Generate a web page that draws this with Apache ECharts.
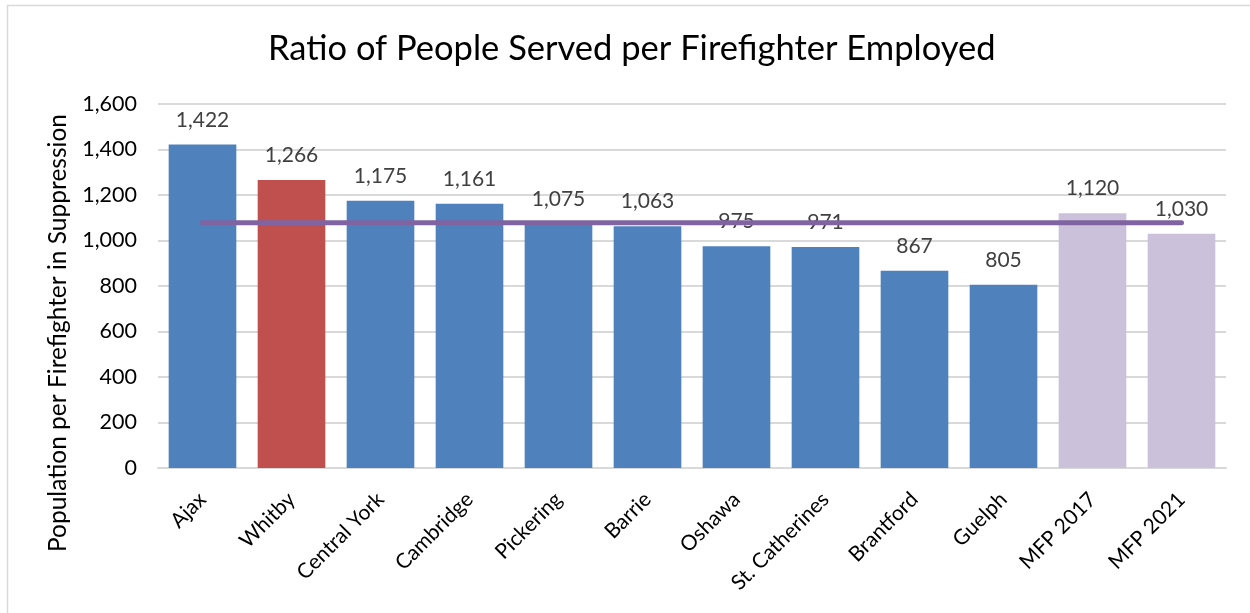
<!DOCTYPE html>
<html>
<head>
<meta charset="utf-8">
<title>Ratio of People Served per Firefighter Employed</title>
<script src="https://cdn.jsdelivr.net/npm/echarts@6/dist/echarts.min.js"></script>
<style>
  html, body { margin: 0; padding: 0; background: #ffffff; }
  #chart { width: 1250px; height: 613px; }
</style>
</head>
<body>
<div id="chart"></div>
<script>
// Municipalities and the master fire plan benchmarks
const categories = ['Ajax', 'Whitby', 'Central York', 'Cambridge', 'Pickering', 'Barrie',
  'Oshawa', 'St. Catherines', 'Brantford', 'Guelph', 'MFP 2017', 'MFP 2021'];

// Population served per suppression firefighter
const ratios = [1422, 1266, 1175, 1161, 1075, 1063, 975, 971, 867, 805, 1120, 1030];

// Average of the ten comparator municipalities
const comparatorAverage = 1078;

// Value axis ticks
const yTicks = [0, 200, 400, 600, 800, 1000, 1200, 1400, 1600];

const yAxisTitle = 'Population per Firefighter in Suppression';

const FONT = 'Lato, "Noto Sans", sans-serif';
const highlightName = 'Whitby';
const planPrefix = 'MFP';

function barColor(name) {
  if (name === highlightName) return '#c0504d';
  if (name.indexOf(planPrefix) === 0) return '#ccc1da';
  return '#4f81bd';
}

const fmt = v => v.toLocaleString('en-US');

const chart = echarts.init(document.getElementById('chart'), null, { renderer: 'canvas' });

chart.setOption({
  animation: false,
  backgroundColor: '#ffffff',
  title: {
    text: 'Ratio of People Served per Firefighter Employed',
    left: 263,
    top: 26,
    textStyle: { fontFamily: FONT, fontSize: 34.5, fontWeight: 'normal', color: '#000000' }
  },
  graphic: [
    {
      // chart frame
      type: 'rect',
      shape: { x: 7.5, y: 5.5, width: 1260, height: 620 },
      style: { fill: 'none', stroke: '#d9d9d9', lineWidth: 1.5 },
      silent: true
    },
    {
      // value axis title
      type: 'text',
      x: 58,
      y: 333,
      rotation: Math.PI / 2,
      style: {
        text: yAxisTitle,
        fontFamily: FONT, fontSize: 24.5, fill: '#000000',
        align: 'center', verticalAlign: 'middle'
      },
      silent: true
    }
  ],
  grid: { left: 158, right: 24, top: 104, bottom: 145, containLabel: false },
  xAxis: {
    type: 'category',
    data: categories,
    axisTick: { show: false },
    axisLine: { lineStyle: { color: '#d9d9d9', width: 2 } },
    axisLabel: {
      interval: 0, rotate: 45, margin: 28,
      verticalAlign: 'middle',
      fontFamily: FONT, fontSize: 21, color: '#000000'
    }
  },
  yAxis: {
    type: 'value',
    min: yTicks[0],
    max: yTicks[yTicks.length - 1],
    interval: yTicks[1] - yTicks[0],
    axisLine: { show: false },
    axisTick: { show: false },
    axisLabel: {
      margin: 21,
      fontFamily: FONT, fontSize: 21.5, color: '#000000',
      formatter: v => fmt(v)
    },
    splitLine: { lineStyle: { color: '#d9d9d9', width: 2 } }
  },
  series: [
    {
      type: 'bar',
      data: ratios.map((v, i) => ({ value: v, itemStyle: { color: barColor(categories[i]) } })),
      barWidth: '76%',
      label: {
        show: true,
        position: 'top',
        distance: 14,
        fontFamily: FONT, fontSize: 21, color: '#404040',
        formatter: p => fmt(p.value)
      },
      z: 2
    },
    {
      type: 'line',
      data: categories.map(() => comparatorAverage),
      symbol: 'none',
      lineStyle: { color: '#8064a2', width: 5, cap: 'round' },
      z: 3
    }
  ]
});
</script>
</body>
</html>
